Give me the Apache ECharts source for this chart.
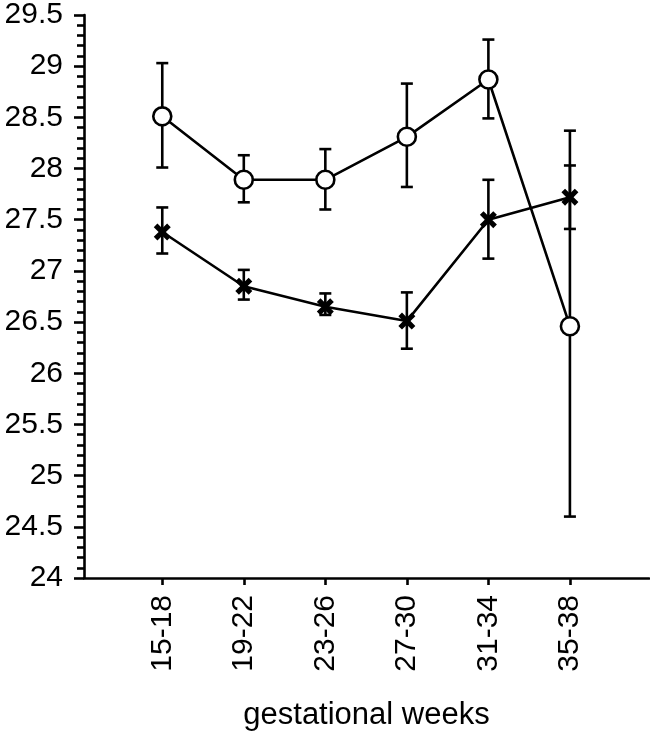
<!DOCTYPE html>
<html>
<head>
<meta charset="utf-8">
<script src="https://cdn.jsdelivr.net/npm/echarts@6/dist/echarts.min.js"></script>
<style>
html,body{margin:0;padding:0;background:#fff;}
#c{width:650px;height:736px;}
</style>
</head>
<body>
<div id="c"></div>
<script>
const categories = ['15-18','19-22','23-26','27-30','31-34','35-38'];
const circleMean = [28.51, 27.89, 27.89, 28.31, 28.87, 26.46];
const circleLow  = [28.01, 27.67, 27.60, 27.82, 28.49, 24.60];
const circleHigh = [29.03, 28.13, 28.19, 28.83, 29.26, 28.37];
const crossMean  = [27.38, 26.85, 26.65, 26.51, 27.50, 27.72];
const crossLow   = [27.17, 26.72, 26.57, 26.24, 27.12, 27.41];
const crossHigh  = [27.62, 27.01, 26.78, 26.79, 27.89, 28.03];
const yTicks = [24, 24.5, 25, 25.5, 26, 26.5, 27, 27.5, 28, 28.5, 29, 29.5];

const pos = categories.map((c, i) => i + 1);
const FONT = '"Liberation Sans", Arial, sans-serif';
const LW = 2.6;

function errData(lo, hi) { return pos.map((p, i) => [p, lo[i], hi[i]]); }
function lineData(m) { return pos.map((p, i) => [p, m[i]]); }

function errRender(params, api) {
  const x = api.value(0);
  const lo = api.coord([x, api.value(1)]);
  const hi = api.coord([x, api.value(2)]);
  const w = 6;
  const st = { stroke: '#000', lineWidth: LW };
  return {
    type: 'group',
    children: [
      { type: 'line', shape: { x1: lo[0], y1: lo[1], x2: hi[0], y2: hi[1] }, style: st },
      { type: 'line', shape: { x1: lo[0] - w, y1: lo[1], x2: lo[0] + w, y2: lo[1] }, style: st },
      { type: 'line', shape: { x1: hi[0] - w, y1: hi[1], x2: hi[0] + w, y2: hi[1] }, style: st }
    ]
  };
}

const crossPath = 'path://M0,3 L3,0 L7,4 L11,0 L14,3 L10,7 L14,11 L11,14 L7,10 L3,14 L0,11 L4,7 Z';

const chart = echarts.init(document.getElementById('c'), null, { renderer: 'canvas' });
chart.setOption({
  animation: false,
  backgroundColor: '#fff',
  grid: { left: 84, right: 1, top: 12, bottom: 157, containLabel: false },
  xAxis: {
    type: 'value', min: 0.04, max: 6.97,
    axisLine: { show: true, lineStyle: { color: '#000', width: LW } },
    axisTick: { show: true, customValues: pos, length: 7, lineStyle: { color: '#000', width: LW } },
    axisLabel: {
      customValues: pos, rotate: 90, margin: 17,
      formatter: v => categories[Math.round(v) - 1] || '',
      color: '#000', fontSize: 30, fontFamily: FONT
    },
    splitLine: { show: false },
    name: 'gestational weeks', nameLocation: 'middle', nameGap: 122,
    nameTextStyle: { color: '#000', fontSize: 31, fontFamily: FONT }
  },
  yAxis: {
    type: 'value', min: yTicks[0], max: yTicks[yTicks.length - 1], interval: 0.5,
    axisLine: { show: true, lineStyle: { color: '#000', width: LW } },
    axisTick: { show: true, length: 10, lineStyle: { color: '#000', width: LW } },
    minorTick: { show: true, splitNumber: 5, length: 7, lineStyle: { color: '#000', width: LW } },
    axisLabel: { color: '#000', fontSize: 30, fontFamily: FONT, margin: 21 },
    splitLine: { show: false }
  },
  series: [
    { type: 'custom', renderItem: errRender, data: errData(circleLow, circleHigh), z: 1, silent: true },
    { type: 'custom', renderItem: errRender, data: errData(crossLow, crossHigh), z: 1, silent: true },
    {
      type: 'line', data: lineData(crossMean), z: 3,
      lineStyle: { color: '#000', width: LW },
      symbol: crossPath, symbolSize: 17,
      itemStyle: { color: '#000', borderWidth: 0 }
    },
    {
      type: 'line', data: lineData(circleMean), z: 4,
      lineStyle: { color: '#000', width: LW },
      symbol: 'circle', symbolSize: 18,
      itemStyle: { color: '#fff', borderColor: '#000', borderWidth: LW }
    }
  ]
});
</script>
</body>
</html>
